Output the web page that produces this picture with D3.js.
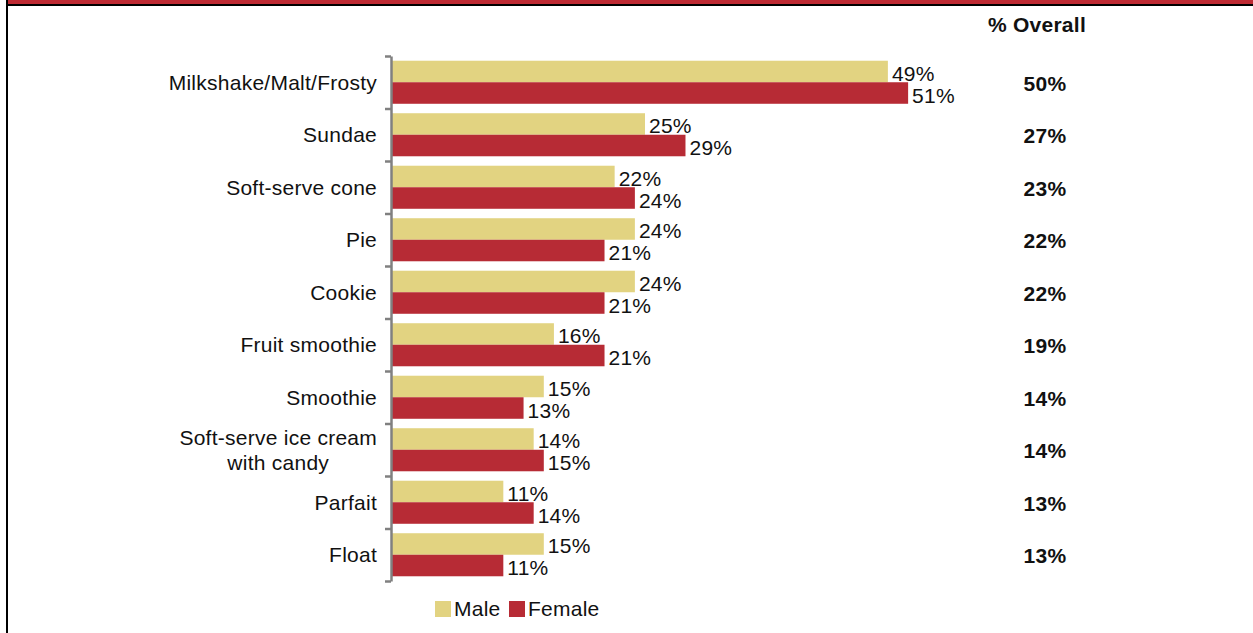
<!DOCTYPE html>
<html>
<head>
<meta charset="utf-8">
<script src="https://cdn.jsdelivr.net/npm/d3@7"></script>
<style>
  html, body { margin: 0; padding: 0; background: #fff; }
  svg { display: block; font-family: Arial, "Liberation Sans", sans-serif; }
</style>
</head>
<body>
<svg id="chart" width="1253" height="633"></svg>
<script>
// Dessert items ordered by share
const categories = [
  "Milkshake/Malt/Frosty",
  "Sundae",
  "Soft-serve cone",
  "Pie",
  "Cookie",
  "Fruit smoothie",
  "Smoothie",
  "Soft-serve ice cream\nwith candy",
  "Parfait",
  "Float"
];
const series = ["Male", "Female"];
const maleValues    = [49, 25, 22, 24, 24, 16, 15, 14, 11, 15];
const femaleValues  = [51, 29, 24, 21, 21, 21, 13, 15, 14, 11];
const overallValues = [50, 27, 23, 22, 22, 19, 14, 14, 13, 13];
const overallTitle = "% Overall";

const colors = { Male: "#E2D381", Female: "#B72B35" };
const FONT = 21;
const SPACING = 0.25;

const svg = d3.select("#chart");

// Frame: red strip with black rule at the top, black rule on the left
svg.append("rect").attr("x", 7).attr("y", 0).attr("width", 1246).attr("height", 4).attr("fill", "#BE2A33");
svg.append("rect").attr("x", 6).attr("y", 4).attr("width", 1247).attr("height", 2).attr("fill", "#000");
svg.append("rect").attr("x", 6).attr("y", 0).attr("width", 2).attr("height", 633).attr("fill", "#000");

// Scales
const x = d3.scaleLinear().domain([0, 100]).range([392, 1404]);
const y = d3.scaleBand().domain(categories).range([56, 581])
  .paddingInner(0.18).paddingOuter(0.09);
const ySub = d3.scaleBand().domain(series).range([0, y.bandwidth()]);
const yEdge = d3.scaleLinear().domain([0, categories.length]).range([56, 581]);

const rows = categories.map((c, i) => ({
  cat: c,
  values: [
    { key: "Male", v: maleValues[i] },
    { key: "Female", v: femaleValues[i] }
  ],
  overall: overallValues[i]
}));

// Bars
const groups = svg.append("g").selectAll("g.row")
  .data(rows).join("g")
  .attr("class", "row")
  .attr("transform", d => `translate(0,${y(d.cat)})`);

groups.selectAll("rect")
  .data(d => d.values).join("rect")
  .attr("x", x(0))
  .attr("y", d => ySub(d.key))
  .attr("width", d => x(d.v) - x(0))
  .attr("height", ySub.bandwidth())
  .attr("fill", d => colors[d.key]);

// Value labels at bar ends
groups.selectAll("text.val")
  .data(d => d.values).join("text")
  .attr("class", "val")
  .attr("x", d => x(d.v) + 4)
  .attr("y", d => ySub(d.key) + ySub.bandwidth() / 2 + 2)
  .attr("dominant-baseline", "central")
  .attr("font-size", FONT)
  .attr("letter-spacing", SPACING)
  .attr("fill", "#111")
  .text(d => d.v + "%");

// Category axis with ticks on band boundaries
const axis = d3.axisLeft(yEdge)
  .tickValues(d3.range(categories.length + 1))
  .tickFormat("")
  .tickSize(6)
  .tickSizeOuter(0);
const axisG = svg.append("g")
  .attr("transform", `translate(${x(0) - 1},0)`)
  .call(axis);
axisG.selectAll("path, line").attr("stroke", "#808080").attr("stroke-width", 2.5);

// Category labels (multi-line labels centred within a right-aligned block)
const labelRight = 377;
const catLabels = svg.append("g").selectAll("text.cat")
  .data(categories).join("text")
  .attr("class", "cat")
  .attr("font-size", FONT)
  .attr("letter-spacing", SPACING)
  .attr("fill", "#111");
catLabels.each(function (c) {
  const lines = c.split("\n");
  const t = d3.select(this);
  const cy = y(c) + y.bandwidth() / 2;
  const lh = 25;
  lines.forEach((ln, j) => {
    t.append("tspan")
      .attr("y", cy + (j - (lines.length - 1) / 2) * lh)
      .attr("dominant-baseline", "central")
      .text(ln);
  });
  const spans = t.selectAll("tspan");
  const widths = spans.nodes().map(n => n.getComputedTextLength());
  const maxW = d3.max(widths);
  if (lines.length > 1) {
    spans.attr("text-anchor", "middle").attr("x", labelRight - maxW / 2);
  } else {
    spans.attr("text-anchor", "end").attr("x", labelRight);
  }
});

// Overall column
svg.append("text")
  .attr("x", 1037)
  .attr("y", 24)
  .attr("text-anchor", "middle")
  .attr("dominant-baseline", "central")
  .attr("font-size", FONT)
  .attr("letter-spacing", SPACING)
  .attr("font-weight", "bold")
  .attr("fill", "#111")
  .text(overallTitle);

svg.append("g").selectAll("text.overall")
  .data(rows).join("text")
  .attr("class", "overall")
  .attr("x", 1045)
  .attr("y", d => y(d.cat) + y.bandwidth() / 2 + 1)
  .attr("text-anchor", "middle")
  .attr("dominant-baseline", "central")
  .attr("font-size", FONT)
  .attr("letter-spacing", SPACING)
  .attr("font-weight", "bold")
  .attr("fill", "#111")
  .text(d => d.overall + "%");

// Legend
const legend = svg.append("g").attr("transform", "translate(435,601)");
const legendOffsets = { Male: 0, Female: 74 };
series.forEach(s => {
  const g = legend.append("g").attr("transform", `translate(${legendOffsets[s]},0)`);
  g.append("rect").attr("width", 16).attr("height", 16).attr("fill", colors[s]);
  g.append("text")
    .attr("x", 19)
    .attr("y", 7)
    .attr("dominant-baseline", "central")
    .attr("font-size", FONT)
    .attr("letter-spacing", SPACING)
    .attr("fill", "#111")
    .text(s);
});
</script>
</body>
</html>
